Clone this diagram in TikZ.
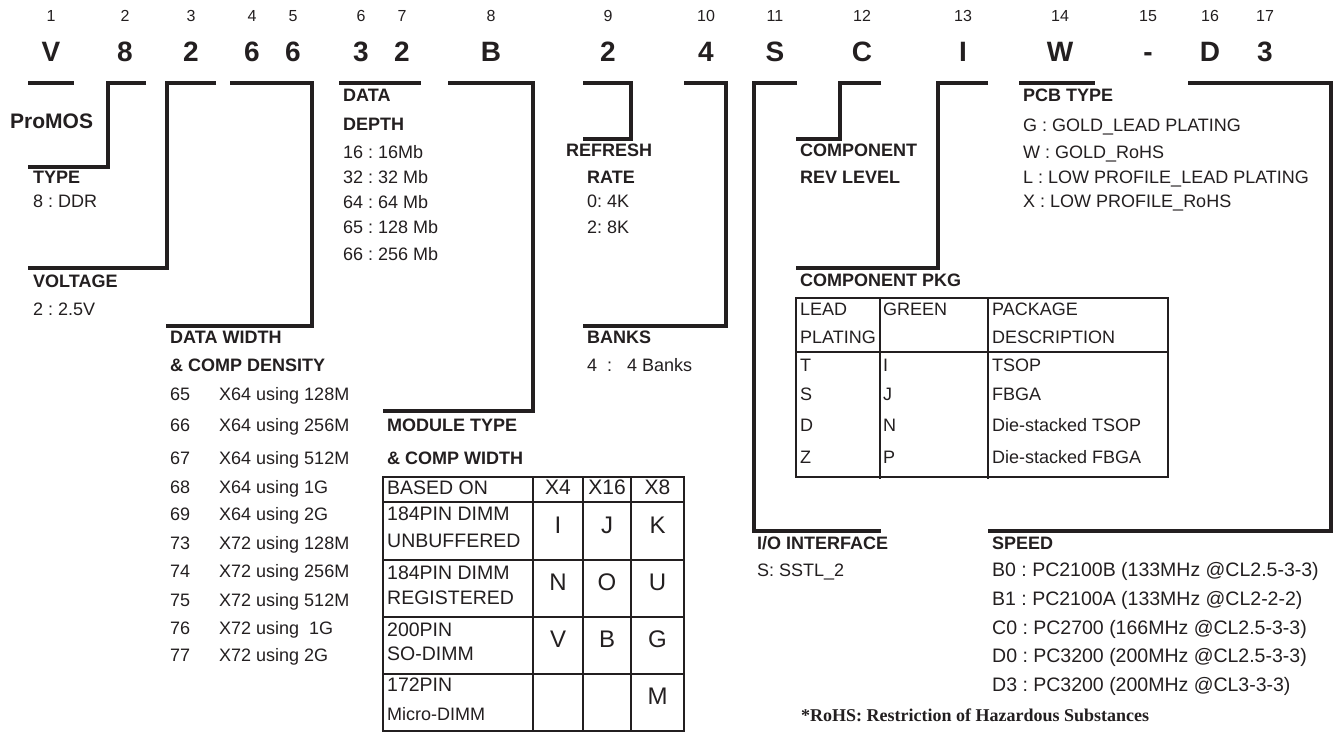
\documentclass[tikz,border=0pt]{standalone}
\usepackage{fontspec}
\setmainfont{Liberation Sans}
\newfontfamily\timesfont{Liberation Serif}
\definecolor{ink}{RGB}{35,31,32}
\frenchspacing
\tikzset{
  base/.style={inner sep=0pt, text height=0.72em, text depth=0pt, text=ink},
  txt/.style={base, anchor=west, font=\fontsize{18}{20}\selectfont},
  txtl/.style={base, anchor=west, font=\fontsize{19.5}{22}\selectfont},
  hdr/.style={base, anchor=west, font=\fontsize{18}{20}\selectfont\bfseries},
  num/.style={base, anchor=center, font=\fontsize{16}{18}\selectfont},
  big/.style={base, anchor=center, font=\fontsize{28}{30}\selectfont\bfseries},
  cellc/.style={base, anchor=center, font=\fontsize{21}{24}\selectfont},
  cellb/.style={base, anchor=center, font=\fontsize{24}{26}\selectfont},
  brk/.style={line width=4pt, draw=ink, line cap=butt, line join=miter},
  tbl/.style={line width=2.2pt, draw=ink},
}
\begin{document}
\frenchspacing
\begin{tikzpicture}[x=1pt,y=-1pt]
\useasboundingbox (0,0) rectangle (1335,732);
\fill[white] (0,0) rectangle (1335,732);

% position numbers and code characters
\foreach \n/\x/\c in {1/51/V, 2/125/8, 3/191/2, 4/252/6, 5/293/6, 6/361/3, 7/402/2, 8/491/B, 9/608/2, 10/706/4, 11/775/S, 12/862/C, 13/963/I, 14/1060/W, 15/1148/-, 16/1210/D, 17/1265/3} {
  \node[num] (n\n) at (\x,17.5) {\n};
  \node[big] (c\n) at (\x,58) {\c};
}

% brackets
\draw[brk] (28,83) -- (74,83);
\draw[brk] (146,83) -- (108,83) -- (108,167) -- (28,167);
\draw[brk] (216,83) -- (167,83) -- (167,268) -- (28,268);
\draw[brk] (230,83) -- (312,83) -- (312,326) -- (166,326);
\draw[brk] (339,83) -- (421,83);
\draw[brk] (448,83) -- (533,83) -- (533,411) -- (383,411);
\draw[brk] (583,83) -- (631,83) -- (631,139) -- (583,139);
\draw[brk] (684,83) -- (726,83) -- (726,326) -- (583,326);
\draw[brk] (797,83) -- (754,83) -- (754,531) -- (881,531);
\draw[brk] (881,83) -- (840,83) -- (840,139) -- (796,139);
\draw[brk] (988,83) -- (938,83) -- (938,268) -- (796,268);
\draw[brk] (1019,83) -- (1095,83);
\draw[brk] (1188,83) -- (1331,83) -- (1331,531) -- (988,531);

% left block
\node[base, anchor=west, font=\fontsize{21}{24}\selectfont\bfseries] (promos) at (10,125) {ProMOS};
\node[hdr] (type) at (33,180) {TYPE};
\node[txt] (type1) at (33,204) {8 : DDR};
\node[hdr] (volt) at (33,284) {VOLTAGE};
\node[txt] (volt1) at (33,312) {2 : 2.5V};
\node[hdr] (dw) at (170,340) {DATA WIDTH};
\node[hdr] (dw2) at (170,368) {\&\ COMP DENSITY};
\foreach \k/\t/\y in {65/X64 using 128M/397, 66/X64 using 256M/428, 67/X64 using 512M/461, 68/X64 using 1G/490, 69/X64 using 2G/517, 73/X72 using 128M/546, 74/X72 using 256M/574, 75/X72 using 512M/603, 76/X72 using\ \ 1G/631, 77/X72 using 2G/658} {
  \node[txt] (dwk\k) at (170,\y) {\k};
  \node[txt] (dwt\k) at (219,\y) {\t};
}

% data depth
\node[hdr] (dd) at (343,98) {DATA};
\node[hdr] (dd2) at (343,127) {DEPTH};
\node[txt] (dd3) at (343,155) {16 : 16Mb};
\node[txt] (dd4) at (343,180) {32 : 32 Mb};
\node[txt] (dd5) at (343,205) {64 : 64 Mb};
\node[txt] (dd6) at (343,230) {65 : 128 Mb};
\node[txt] (dd7) at (343,257) {66 : 256 Mb};

% refresh / banks
\node[hdr] (rr) at (566,153) {REFRESH};
\node[hdr] (rr2) at (587,180) {RATE};
\node[txt] (rr3) at (587,204) {0: 4K};
\node[txt] (rr4) at (587,230) {2: 8K};
\node[hdr] (bk) at (587,340) {BANKS};
\node[txt] (bk1) at (587,368) {4\ \ :\ \ \ 4 Banks};

% component rev
\node[hdr] (cr) at (800,153) {COMPONENT};
\node[hdr] (cr2) at (800,180) {REV LEVEL};

% PCB type
\node[hdr] (pcb) at (1023,98) {PCB TYPE};
\node[txt] (pcb1) at (1023,128) {G : GOLD\_LEAD PLATING};
\node[txt] (pcb2) at (1023,155) {W : GOLD\_RoHS};
\node[txt] (pcb3) at (1023,180) {L : LOW PROFILE\_LEAD PLATING};
\node[txt] (pcb4) at (1023,204) {X : LOW PROFILE\_RoHS};

% component pkg table
\node[hdr] (cp) at (800,283) {COMPONENT PKG};
\draw[tbl] (796,298) rectangle (1168,477);
\draw[tbl] (796,352) -- (1168,352);
\draw[tbl] (880,298) -- (880,479);
\draw[tbl] (988,298) -- (988,479);
\node[txt] (cpa1) at (800,312) {LEAD};
\node[txt] (cpa2) at (800,340) {PLATING};
\node[txt] (cpb1) at (883,312) {GREEN};
\node[txt] (cpc1) at (992,312) {PACKAGE};
\node[txt] (cpc2) at (992,340) {DESCRIPTION};
\foreach \i/\a/\b/\c/\y in {1/T/I/TSOP/368, 2/S/J/FBGA/397, 3/D/N/Die-stacked TSOP/428, 4/Z/P/Die-stacked FBGA/460} {
  \node[txt] (pa\i) at (800,\y) {\a};
  \node[txt] (pb\i) at (883,\y) {\b};
  \node[txt] (pc\i) at (992,\y) {\c};
}

% module type table
\node[hdr] (mt) at (387,428) {MODULE TYPE};
\node[hdr] (mt2) at (387,461) {\&\ COMP WIDTH};
\draw[tbl] (383,477) rectangle (684,731);
\foreach \y in {502,560,617,674} { \draw[tbl] (383,\y) -- (684,\y); }
\foreach \x in {533,583,631} { \draw[tbl] (\x,477) -- (\x,731); }
\node[txtl] (m0) at (387,491) {BASED ON};
\node[cellc] (hx4) at (558,491) {X4};
\node[cellc] (hx16) at (607,491) {X16};
\node[cellc] (hx8) at (657.5,491) {X8};
\node[txtl] (m1a) at (387,517) {184PIN DIMM};
\node[txtl] (m1b) at (387,544) {UNBUFFERED};
\node[txtl] (m2a) at (387,576) {184PIN DIMM};
\node[txtl] (m2b) at (387,601) {REGISTERED};
\node[txtl] (m3a) at (387,633) {200PIN};
\node[txtl] (m3b) at (387,657) {SO-DIMM};
\node[txtl] (m4a) at (387,688) {172PIN};
\node[txt] (m4b) at (387,717) {Micro-DIMM};
\foreach \i/\a/\b/\c/\y in {1/I/J/K/530, 2/N/O/U/587, 3/V/B/G/644} {
  \node[cellb] (ra\i) at (558,\y) {\a};
  \node[cellb] (rb\i) at (607,\y) {\b};
  \node[cellb] (rc\i) at (657.5,\y) {\c};
}
\node[cellb] (rc4) at (657.5,701) {M};

% I/O interface
\node[hdr] (io) at (757,546) {I/O INTERFACE};
\node[txt] (io1) at (757,573) {S: SSTL\_2};

% speed
\node[hdr] (sp) at (992,546) {SPEED};
\node[txtl] (sp1) at (992,573) {B0 : PC2100B (133MHz @CL2.5-3-3)};
\node[txtl] (sp2) at (992,602) {B1 : PC2100A (133MHz @CL2-2-2)};
\node[txtl] (sp3) at (992,631) {C0 : PC2700 (166MHz @CL2.5-3-3)};
\node[txtl] (sp4) at (992,659) {D0 : PC3200 (200MHz @CL2.5-3-3)};
\node[txtl] (sp5) at (992,688) {D3 : PC3200 (200MHz @CL3-3-3)};

% footnote
\node[base, anchor=west, font=\timesfont\fontsize{18}{20}\selectfont\bfseries] (foot) at (801,718) {*RoHS: Restriction of Hazardous Substances};
\end{tikzpicture}
\end{document}
